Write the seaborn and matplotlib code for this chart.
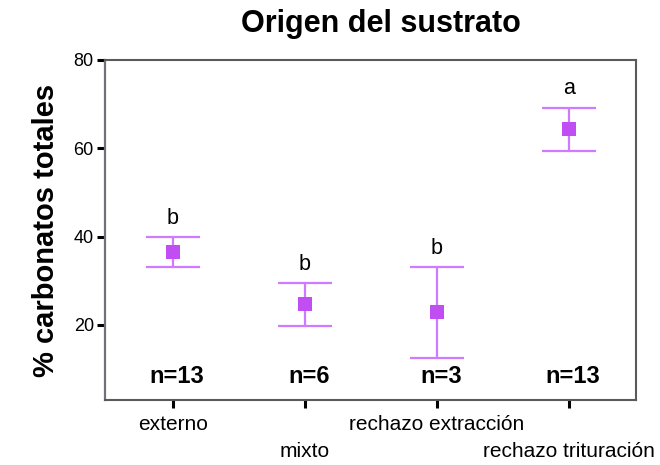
import pandas as pd
import matplotlib
matplotlib.use("Agg")
import matplotlib.pyplot as plt
import seaborn as sns

# data
categorias = ['externo', 'mixto', 'rechazo extracción', 'rechazo trituración']
medias = [36.6, 24.8, 23.0, 64.3]
lim_sup = [39.8, 29.4, 33.0, 69.2]
lim_inf = [33.0, 19.8, 12.6, 59.3]
letras = ['b', 'b', 'b', 'a']
n_muestras = [13, 6, 3, 13]

sns.set_style("white")
plt.rcParams['font.family'] = ['Liberation Sans', 'DejaVu Sans']
plt.rcParams['text.color'] = 'black'
plt.rcParams['axes.labelcolor'] = 'black'
plt.rcParams['xtick.color'] = 'black'
plt.rcParams['ytick.color'] = 'black'

df = pd.DataFrame({'origen': categorias, 'media': medias})
err_low = [m - l for m, l in zip(medias, lim_inf)]
err_high = [u - m for m, u in zip(medias, lim_sup)]

fig = plt.figure(figsize=(6.6, 4.65), dpi=100)
ax = fig.add_axes([0.159, 0.140, 0.805, 0.731])

line_col = '#D07AFF'
mark_col = '#C04EF2'

ax.errorbar(df['origen'], df['media'], yerr=[err_low, err_high], fmt='none',
            ecolor=line_col, elinewidth=1.6, capsize=19.5, capthick=1.6, zorder=2)
sns.scatterplot(data=df, x='origen', y='media', marker='s', s=95, color=mark_col,
                edgecolor=mark_col, linewidth=0, ax=ax, zorder=3)

# significance letters above each upper limit
for i, (top, let) in enumerate(zip(lim_sup, letras)):
    ax.annotate(let, (i, top), xytext=(0, 9.5), textcoords='offset points',
                ha='center', va='baseline', fontsize=15.5, color='black')

# sample sizes near the bottom
for i, n in enumerate(n_muestras):
    ax.text(i + 0.03, 0.07, f"n={n}", transform=ax.get_xaxis_transform(),
            ha='center', va='center', fontsize=17, fontweight='bold', color='black')

ax.set_xlim(-0.515, 3.51)
ax.set_ylim(3, 80)
ax.set_yticks([20, 40, 60, 80])
ax.set_xticks(range(len(categorias)))
ax.set_xticklabels(categorias, fontsize=15)
ax.tick_params(axis='y', labelsize=13, length=6, width=2.2, color='black',
               direction='out', left=True, pad=2)
ax.tick_params(axis='x', length=6, width=2.2, color='black', direction='out',
               bottom=True, pad=5)
# staggered category labels: every second one goes on a lower row
for lab in ax.get_xticklabels()[1::2]:
    lab.set_y(-0.08)

for side in ['top', 'right', 'bottom']:
    ax.spines[side].set_color('#5a5a5a')
    ax.spines[side].set_linewidth(1.5)
ax.spines['left'].set_color('#70707e')
ax.spines['left'].set_linewidth(1.6)

ax.set_xlabel('')
ax.set_ylabel('% carbonatos totales', fontsize=21, fontweight='bold', labelpad=10)
ax.set_title('Origen del sustrato', fontsize=22, fontweight='bold', pad=20, x=0.52)

fig.savefig('out.png', dpi=100)
